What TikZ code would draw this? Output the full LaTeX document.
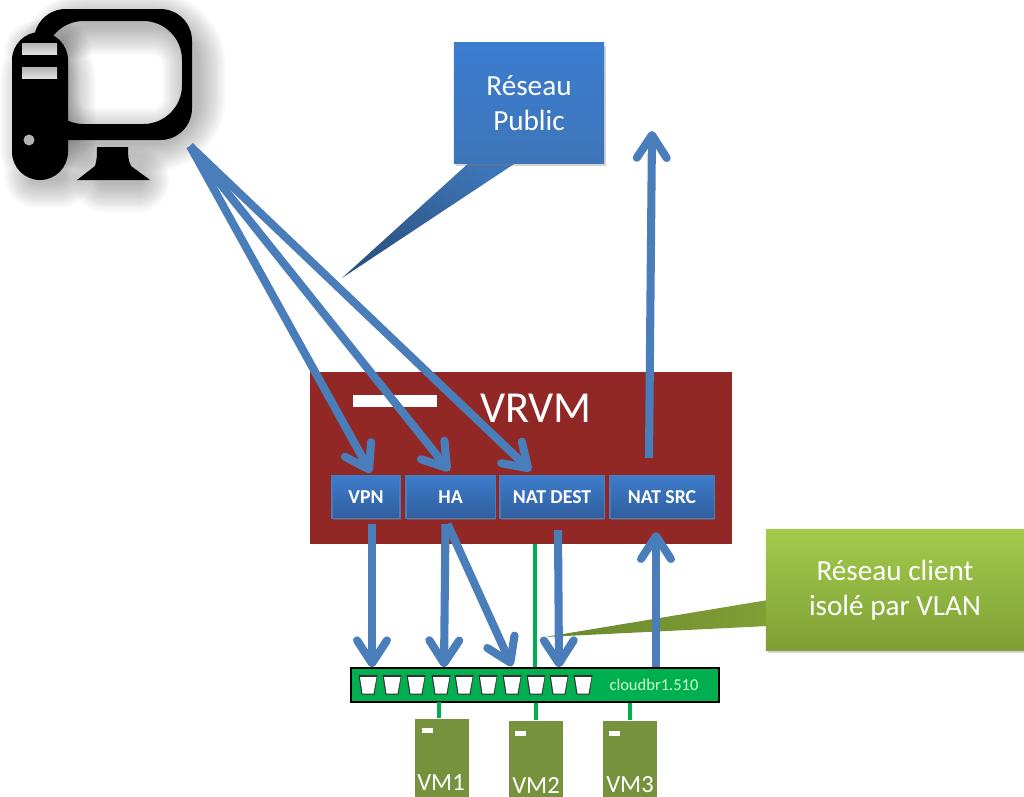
\documentclass[tikz,border=0pt]{standalone}
\usepackage{xcolor}
\usepackage{fontspec}
\setmainfont{Carlito}
\usetikzlibrary{arrows.meta,calc,shadows}
\definecolor{linkblue}{HTML}{4A7EBB}
\definecolor{vrred}{HTML}{922825}
\definecolor{swgreen}{HTML}{00B050}
\definecolor{vmolive}{HTML}{76923C}
\definecolor{boxtop}{HTML}{3E7CCB}
\definecolor{boxbot}{HTML}{2F5E9E}
\definecolor{pubtop}{HTML}{3C7DD0}
\definecolor{pubbot}{HTML}{3D75B8}
\definecolor{cltop}{HTML}{A2CB4B}
\definecolor{clbot}{HTML}{7F9F36}
\begin{document}
\begin{tikzpicture}[x=.01cm,y=-.01cm,
  link/.style={draw=linkblue,line width=2.3pt,-{Straight Barb[length=6.5pt,width=8.5pt,round]}},
  vlanline/.style={draw=swgreen,line width=1.1pt},
  svcbox/.style={draw=linkblue,line width=.3pt,top color=boxtop,bottom color=boxbot,
    text=white,font=\fontsize{5.6}{6}\selectfont\bfseries,minimum height=.43cm,inner sep=0pt,
    drop shadow={shadow xshift=.3pt,shadow yshift=-.5pt,opacity=.4}},
  vmbox/.style={fill=vmolive,minimum width=.54cm,anchor=north,inner sep=0pt},
  vmname/.style={text=white,font=\fontsize{7}{8}\selectfont,inner sep=0pt},
  callout/.style={text=white,font=\fontsize{8.3}{10}\selectfont,align=center,inner sep=0pt,
    drop shadow={shadow xshift=.5pt,shadow yshift=-.8pt,opacity=.35}},
  pcshadow/.style={draw=black,opacity=.02,line cap=round,line join=round,shift={(8,8)}},
  ]
  \useasboundingbox (0,0) rectangle (1024,796);

  % computer
  \foreach \w in {3,4,...,18}{
    \draw[pcshadow,line width=\w pt,rounded corners=12] (40,15) rectangle (186,132);
    \draw[pcshadow,line width=\w pt,rounded corners=8] (24,44) rectangle (56,168);
    \draw[pcshadow,line width=\w pt] (96,172) -- (130,172);
  }
  \fill[even odd rule,rounded corners=9] (34,9) rectangle (192,140)
    {[rounded corners=11] (45,21) rectangle (182,124)};
  \fill[rounded corners=8] (12,32) rectangle (68,180);
  \foreach \y in {43,67}
    \shade[top color=gray!60,bottom color=gray!25] (22,\y) rectangle (57,\y+11);
  \fill[gray!60] (29,140) circle (5.5);
  \fill (77,180) -- (95,166) .. controls (97,160) and (97,155) .. (97,147)
    -- (128,147) .. controls (128,155) and (128,160) .. (131,166) -- (150,180) -- cycle;
  \coordinate (pc) at (190,146);

  % callouts
  \shade[top color=pubbot,bottom color=pubbot!70!black,shading angle=-35]
    (472,160) -- (342,278) -- (520,160) -- cycle;
  \node[callout,minimum width=1.5cm,minimum height=1.2cm,top color=pubtop,bottom color=pubbot] (public)
    at (529,103) {Réseau\\Public};
  \shade[left color=clbot!85!black,right color=clbot]
    (545,637) -- (768,600) -- (768,626) -- cycle;
  \node[callout,minimum width=2.58cm,minimum height=1.2cm,top color=cltop,bottom color=clbot] (client)
    at (895,590) {Réseau client\\isolé par VLAN};

  % router
  \node[fill=vrred,minimum width=4.22cm,minimum height=1.72cm,inner sep=0pt] (vrvm) at (521,458) {};
  \node[fill=white,minimum width=.84cm,minimum height=.12cm,inner sep=0pt] (vrbar) at (395,401) {};
  \node[text=white,font=\fontsize{12.6}{14}\selectfont,inner sep=0pt] (vrname) at (536,408) {VRVM};
  \node[svcbox,minimum width=.68cm] (vpn) at (366,497) {VPN};
  \node[svcbox,minimum width=.89cm] (ha) at (450.5,497) {HA};
  \node[svcbox,minimum width=1.04cm] (natdest) at (552,497) {NAT DEST};
  \node[svcbox,minimum width=1.04cm] (natsrc) at (662,497) {NAT SRC};

  % bridge
  \draw[vlanline] (535,544) -- (535,668);
  \node[draw=black,line width=.4pt,fill=swgreen,minimum width=3.68cm,minimum height=.34cm,inner sep=0pt] (bridge) at (535,685) {};
  \foreach \x in {368,392,416,441,464,488,512,536,559,583}{
    \fill[black!80] (\x-9.5,675) -- (\x+9.5,675) -- (\x+6.5,694.5) -- (\x-6.5,694.5) -- cycle;
    \fill[white] (\x-8,677) -- (\x+8.5,677) -- (\x+5.5,693.5) -- (\x-5.5,693.5) -- cycle;
  }
  \node[text=green!20!white,font=\fontsize{4.7}{5}\selectfont,inner sep=0pt] (brname) at (654,685) {cloudbr1.510};

  % vms
  \node[vmbox,minimum height=.78cm] (vm1) at (442,718) {};
  \node[vmbox,minimum height=.76cm] (vm2) at (536,720) {};
  \node[vmbox,minimum height=.76cm] (vm3) at (630,720) {};
  \foreach \n/\x/\y in {1/427/730.5,2/520/733,3/614/733}
    \fill[white] (\x-5.5,\y-2.5) rectangle (\x+5.5,\y+2.5);
  \node[vmname] (vm1name) at (441,783) {VM1};
  \node[vmname] (vm2name) at (536,785) {VM2};
  \node[vmname] (vm3name) at (630,785) {VM3};
  \draw[vlanline] ($(vm1.north)+(-3,-16)$) -- ($(vm1.north)+(-3,0)$);
  \draw[vlanline] (vm2.north |- bridge.south) -- (vm2.north);
  \draw[vlanline] (vm3.north |- bridge.south) -- (vm3.north);

  % flows
  \draw[link] (pc) -- ($(vpn.north)+(5,-2)$);
  \draw[link] (pc) -- ($(ha.north)+(-1,-4)$);
  \draw[link] (pc) -- ($(natdest.north)+(-21,-4)$);
  \coordinate (wan) at (652,131);
  \draw[link] ($(natsrc.north)+(-13,-17)$) -- (wan);
  \draw[link] ($(vpn.south)+(6,5)$) -- ($(bridge.north)+(-163,0)$);
  \draw[link] ($(ha.south)+(-5,5)$) -- ($(bridge.north)+(-91,0)$);
  \draw[link] ($(ha.south)+(-3,5)$) -- ($(bridge.north)+(-23,-1)$);
  \draw[link] ($(natdest.south)+(6,11)$) -- ($(bridge.north)+(24,0)$);
  \draw[link] ($(bridge.north)+(121,0)$) -- ($(natsrc.south)+(-6,13)$);
\end{tikzpicture}
\end{document}
